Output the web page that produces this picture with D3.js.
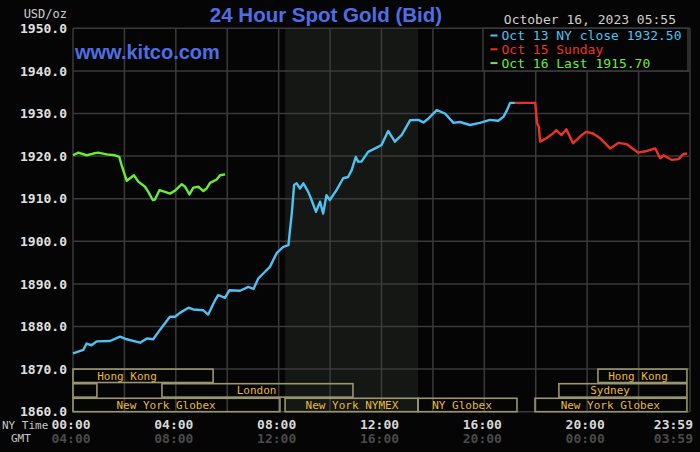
<!DOCTYPE html>
<html>
<head>
<meta charset="utf-8">
<script src="https://d3js.org/d3.v7.min.js"></script>
<style>
body { margin: 0; background: #050505; }
svg { display: block; }
.mono { font-family: "DejaVu Sans Mono", monospace; }
</style>
</head>
<body>
<script>
// hours after 00:00 NY time, bid price
var oct13 = [
  [0, 1873.7], [0.4, 1874.5], [0.53, 1876.0], [0.72, 1875.6], [0.92, 1876.5], [1.44, 1876.6],
  [1.83, 1877.6], [2.09, 1877.0], [2.61, 1876.2], [2.87, 1877.2], [3.12, 1877.0], [3.38, 1879.2],
  [3.77, 1882.3], [3.97, 1882.3], [4.16, 1883.2], [4.49, 1884.4], [4.68, 1884.0], [5.07, 1883.8],
  [5.26, 1882.8], [5.53, 1886.2], [5.65, 1887.4], [5.91, 1886.7], [6.08, 1888.5], [6.5, 1888.4],
  [6.82, 1889.3], [7.02, 1888.8], [7.21, 1891.3], [7.41, 1892.5], [7.66, 1894.0], [7.92, 1897.2],
  [8.18, 1898.7], [8.38, 1899.1], [8.44, 1902.6], [8.51, 1906.5], [8.6, 1913.2], [8.7, 1913.6],
  [8.83, 1912.4], [8.96, 1913.6], [9.15, 1911.6], [9.28, 1909.7], [9.45, 1906.9], [9.61, 1909.3],
  [9.73, 1906.5], [9.86, 1910.8], [9.99, 1909.7], [10.25, 1912.0], [10.51, 1914.8], [10.7, 1915.1],
  [10.84, 1916.7], [11.0, 1919.8], [11.09, 1918.7], [11.22, 1918.7], [11.48, 1921.0], [11.81, 1922.0],
  [12.0, 1922.6], [12.26, 1925.9], [12.52, 1923.4], [12.78, 1924.9], [13.11, 1928.4], [13.43, 1928.5],
  [13.63, 1927.9], [13.84, 1928.9], [14.15, 1930.8], [14.47, 1930.0], [14.8, 1927.8], [15.05, 1928.0],
  [15.44, 1927.3], [15.83, 1927.8], [16.22, 1928.5], [16.54, 1928.3], [16.74, 1929.2], [16.87, 1930.6],
  [17.0, 1932.5], [17.19, 1932.5]
];
var oct15 = [
  [17.19, 1932.5], [17.98, 1932.5], [18.05, 1927.7], [18.12, 1926.9], [18.17, 1923.4], [18.41, 1924.2],
  [18.67, 1925.3], [18.8, 1926.1], [19.0, 1924.9], [19.19, 1926.3], [19.45, 1923.0], [19.78, 1924.9],
  [19.97, 1925.7], [20.23, 1925.3], [20.5, 1924.2], [20.89, 1921.8], [21.21, 1923.1], [21.54, 1922.8],
  [21.99, 1920.8], [22.32, 1921.2], [22.65, 1921.8], [22.84, 1919.5], [22.97, 1920.2], [23.3, 1919.1],
  [23.55, 1919.3], [23.75, 1920.5], [23.88, 1920.6]
];
var oct16 = [
  [0, 1920.2], [0.21, 1920.8], [0.53, 1920.2], [0.79, 1920.6], [0.98, 1920.8], [1.31, 1920.4],
  [1.63, 1920.2], [1.8, 1919.8], [1.89, 1917.9], [2.09, 1914.2], [2.22, 1914.8], [2.37, 1915.5],
  [2.54, 1914.0], [2.8, 1912.8], [2.93, 1911.6], [3.1, 1909.7], [3.19, 1909.8], [3.36, 1912.0],
  [3.58, 1911.6], [3.77, 1911.2], [3.97, 1911.9], [4.23, 1913.4], [4.36, 1912.8], [4.53, 1911.0],
  [4.68, 1912.6], [4.88, 1912.8], [5.07, 1911.8], [5.2, 1912.4], [5.33, 1913.7], [5.59, 1914.5],
  [5.72, 1915.5], [5.92, 1915.7]
];

var legendLabels = ["Oct 13 NY close 1932.50", "Oct 15 Sunday", "Oct 16 Last 1915.70"];
var yTicks = [1860, 1870, 1880, 1890, 1900, 1910, 1920, 1930, 1940, 1950];
var xGrid = d3.range(0, 25, 2);
var timeTicks = [0, 4, 8, 12, 16, 20, 23 + 59 / 60];
var comexHours = [8.25, 13.42];

// market sessions: row, start hour, end hour, label, label centre hour
var sessionRows = [0, 0, 1, 1, 1, 2, 2, 2, 2];
var sessionStart = [0, 20.42, 0, 3.46, 18.9, 0, 8.25, 13.42, 17.97];
var sessionEnd = [5.45, 23.88, 0.93, 10.89, 23.88, 8.05, 13.42, 17.27, 23.88];
var sessionNames = ["Hong Kong", "Hong Kong", "", "London", "Sydney", "New York Globex", "New York NYMEX", "NY Globex", "New York Globex"];
var sessionMid = [2.1, 21.98, 0.46, 7.14, 20.89, 3.62, 10.85, 15.13, 20.9];

var W = 700, H = 452;
var svg = d3.select("body").append("svg").attr("width", W).attr("height", H);

var x = d3.scaleLinear().domain([0, 24]).range([73, 690]);
var y = d3.scaleLinear().domain([1860, 1950]).range([411.7, 28.3]);
var rowY = d3.scaleBand().domain([0, 1, 2]).range([y(1870), y(1860)]).paddingInner(0.08);

// comex shading
svg.append("rect")
   .attr("x", x(comexHours[0]))
   .attr("y", y(1950))
   .attr("width", x(comexHours[1]) - x(comexHours[0]))
   .attr("height", y(1860) - y(1950))
   .attr("fill", "#141714");

// grid
svg.append("g")
   .selectAll("line.h")
   .data(yTicks)
   .enter()
   .append("line")
   .attr("x1", x(0)).attr("x2", x(24))
   .attr("y1", function(d){ return y(d); })
   .attr("y2", function(d){ return y(d); })
   .attr("stroke", "#3a3a3a")
   .attr("stroke-width", 1.5);

svg.append("g")
   .selectAll("line.v")
   .data(xGrid)
   .enter()
   .append("line")
   .attr("x1", function(d){ return x(d); })
   .attr("x2", function(d){ return x(d); })
   .attr("y1", y(1950)).attr("y2", y(1860))
   .attr("stroke", "#3a3a3a")
   .attr("stroke-width", 1.5);

// y axis labels
var yAxis = d3.axisLeft(y).tickValues(yTicks).tickSize(0).tickPadding(0).tickFormat(d3.format(".1f"));
var gy = svg.append("g").attr("transform", "translate(67,0)").call(yAxis);
gy.select(".domain").remove();
gy.selectAll("text")
  .attr("class", "mono")
  .attr("font-size", 13)
  .attr("font-weight", "bold")
  .attr("fill", "#e0e0e0");

svg.append("text").attr("class", "mono")
   .attr("x", 67).attr("y", 17.5)
   .attr("text-anchor", "end")
   .attr("font-size", 12).attr("fill", "#cfcfcf")
   .text("USD/oz");

// sessions
var sess = svg.append("g");
sessionRows.forEach(function(r, i){
    sess.append("rect")
        .attr("x", x(sessionStart[i]))
        .attr("y", rowY(r))
        .attr("width", x(sessionEnd[i]) - x(sessionStart[i]))
        .attr("height", rowY.bandwidth())
        .attr("fill", "none")
        .attr("stroke", "#9a9670")
        .attr("stroke-width", 1.6);
    sess.append("text")
        .attr("class", "mono")
        .attr("x", x(sessionMid[i]))
        .attr("y", rowY(r) + rowY.bandwidth() / 2 + 4)
        .attr("text-anchor", "middle")
        .attr("font-size", 11)
        .attr("fill", "#e8bb38")
        .text(sessionNames[i]);
});

// price lines
var line = d3.line()
    .x(function(d){ return x(d[0]); })
    .y(function(d){ return y(d[1]); });

var series = [oct13, oct15, oct16];
var colors = ["#4fc1f2", "#ec3323", "#6bec3a"];
series.forEach(function(s, i){
    svg.append("path")
       .datum(s)
       .attr("d", line)
       .attr("fill", "none")
       .attr("stroke", colors[i])
       .attr("stroke-width", 2.4)
       .attr("stroke-linejoin", "round");
});

// legend
var lg = svg.append("g");
lg.append("rect")
  .attr("x", 483).attr("y", y(1950))
  .attr("width", 205).attr("height", y(1940) - y(1950))
  .attr("fill", "#050505")
  .attr("stroke", "#3a3a3a")
  .attr("stroke-width", 1.5);
legendLabels.forEach(function(t, i){
    var by = 40 + i * 13.8;
    lg.append("line")
      .attr("x1", 490.5).attr("x2", 497.5)
      .attr("y1", by - 4.5).attr("y2", by - 4.5)
      .attr("stroke", colors[i])
      .attr("stroke-width", 2);
    lg.append("text").attr("class", "mono")
      .attr("x", 501.5).attr("y", by)
      .attr("font-size", 13)
      .attr("fill", colors[i])
      .text(t);
});

// titles
svg.append("text")
   .attr("x", 326).attr("y", 22)
   .attr("text-anchor", "middle")
   .attr("font-family", "Liberation Sans, Arial, sans-serif")
   .attr("font-weight", "bold")
   .attr("font-size", 20.5)
   .attr("fill", "#4e6fe4")
   .text("24 Hour Spot Gold (Bid)");

svg.append("text")
   .attr("x", 75).attr("y", 59)
   .attr("font-family", "Liberation Sans, Arial, sans-serif")
   .attr("font-weight", "bold")
   .attr("font-size", 20)
   .attr("fill", "#4e6fe4")
   .text("www.kitco.com");

svg.append("text").attr("class", "mono")
   .attr("x", 676).attr("y", 24)
   .attr("text-anchor", "end")
   .attr("font-size", 13)
   .attr("fill", "#cfcfcf")
   .text("October 16, 2023 05:55");

// time axes
function hhmm(h){
    var hr = Math.floor(h) % 24, mn = Math.round((h - Math.floor(h)) * 60);
    return d3.format("02d")(hr) + ":" + d3.format("02d")(mn);
}
var tx = svg.append("g");
timeTicks.forEach(function(t, i){
    var last = i == timeTicks.length - 1;
    tx.append("text").attr("class", "mono")
      .attr("x", last ? 693 : x(t) - 2)
      .attr("y", 428.5)
      .attr("text-anchor", last ? "end" : "middle")
      .attr("font-size", 13).attr("font-weight", "bold")
      .attr("fill", "#d8d8d8")
      .text(hhmm(t));
    tx.append("text").attr("class", "mono")
      .attr("x", last ? 693 : x(t) - 2)
      .attr("y", 442.5)
      .attr("text-anchor", last ? "end" : "middle")
      .attr("font-size", 13).attr("font-weight", "bold")
      .attr("fill", "#4a4a4a")
      .text(hhmm(t + 4));
});
svg.append("text").attr("class", "mono")
   .attr("x", 2).attr("y", 429)
   .attr("font-size", 11).attr("fill", "#c8c8c8")
   .text("NY Time");
svg.append("text").attr("class", "mono")
   .attr("x", 11).attr("y", 442)
   .attr("font-size", 11).attr("fill", "#c8c8c8")
   .text("GMT");
</script>
</body>
</html>
